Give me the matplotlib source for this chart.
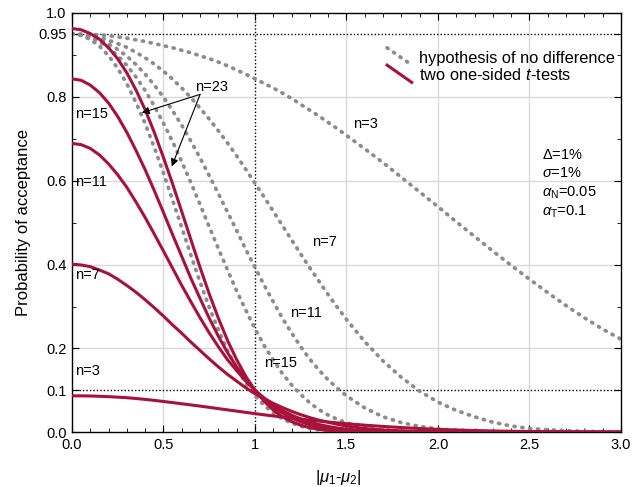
import matplotlib
matplotlib.use("Agg")
import matplotlib.pyplot as plt
from matplotlib.lines import Line2D
from matplotlib.legend_handler import HandlerBase
from matplotlib.ticker import MultipleLocator

plt.rcParams['font.family'] = ['Liberation Sans', 'DejaVu Sans']
plt.rcParams['mathtext.fontset'] = 'custom'
plt.rcParams['mathtext.rm'] = 'Liberation Sans'
plt.rcParams['mathtext.it'] = 'Liberation Sans:italic'

# ---------------- data ----------------
mu_diff = [0.0, 0.05, 0.1, 0.15, 0.2, 0.25, 0.3, 0.35, 0.4, 0.45, 0.5,
           0.55, 0.6, 0.65, 0.7, 0.75, 0.8, 0.85, 0.9, 0.95, 1.0,
           1.05, 1.1, 1.15, 1.2, 1.25, 1.3, 1.35, 1.4, 1.45, 1.5,
           1.6, 1.7, 1.8, 1.9, 2.0, 2.1, 2.2, 2.3, 2.4, 2.5, 2.6, 2.7, 2.8, 2.9, 3.0]

# hypothesis of no difference (dotted grey)
gray_n3 = [0.950, 0.9498, 0.949, 0.948, 0.946, 0.943, 0.940, 0.936, 0.932, 0.927, 0.922,
           0.917, 0.911, 0.905, 0.898, 0.891, 0.883, 0.874, 0.864, 0.854, 0.843,
           0.832, 0.821, 0.809, 0.796, 0.782, 0.768, 0.754, 0.739, 0.724, 0.708,
           0.676, 0.643, 0.608, 0.573, 0.538, 0.502, 0.467, 0.432, 0.398, 0.365, 0.333, 0.302, 0.273, 0.246, 0.222]
gray_n7 = [0.950, 0.948, 0.945, 0.941, 0.935, 0.927, 0.918, 0.906, 0.893, 0.878, 0.861,
           0.842, 0.821, 0.798, 0.773, 0.747, 0.719, 0.690, 0.659, 0.627, 0.594,
           0.561, 0.527, 0.493, 0.459, 0.425, 0.392, 0.360, 0.328, 0.298, 0.269,
           0.216, 0.170, 0.131, 0.098, 0.072, 0.052, 0.037, 0.024, 0.015, 0.009, 0.006, 0.004, 0.0025, 0.0015, 0.001]
gray_n11 = [0.950, 0.948, 0.944, 0.9365, 0.926, 0.913, 0.897, 0.877, 0.854, 0.828, 0.799,
            0.767, 0.732, 0.694, 0.654, 0.612, 0.569, 0.525, 0.481, 0.436, 0.393,
            0.351, 0.311, 0.272, 0.237, 0.204, 0.174, 0.148, 0.125, 0.105, 0.087,
            0.058, 0.037, 0.023, 0.014, 0.008, 0.005, 0.003, 0.0015, 0.0008, 0.0004, 0.0002, 0.0001, 0.0, 0.0, 0.0]
gray_n15 = [0.950, 0.948, 0.942, 0.931, 0.917, 0.898, 0.875, 0.847, 0.815, 0.778, 0.737,
            0.693, 0.645, 0.595, 0.543, 0.490, 0.438, 0.387, 0.337, 0.291, 0.247,
            0.207, 0.172, 0.140, 0.113, 0.090, 0.070, 0.054, 0.041, 0.031, 0.0225,
            0.0116, 0.0057, 0.0026, 0.0011, 0.0005, 0.0002, 0.0001, 0.0, 0.0, 0.0, 0.0, 0.0, 0.0, 0.0, 0.0]
gray_n23 = [0.950, 0.9465, 0.937, 0.921, 0.898, 0.868, 0.831, 0.786, 0.736, 0.679, 0.618,
            0.553, 0.488, 0.422, 0.358, 0.298, 0.244, 0.195, 0.153, 0.117, 0.087,
            0.064, 0.046, 0.032, 0.022, 0.0144, 0.009, 0.0059, 0.0036, 0.0022, 0.0013,
            0.0004, 0.0001, 0.0, 0.0, 0.0, 0.0, 0.0, 0.0, 0.0, 0.0, 0.0, 0.0, 0.0, 0.0, 0.0]

# two one-sided t-tests (solid red)
red_n3 = [0.087, 0.0869, 0.0866, 0.0859, 0.085, 0.0838, 0.0825, 0.0806, 0.0785, 0.0761, 0.0735,
          0.0708, 0.068, 0.0653, 0.0625, 0.0595, 0.0565, 0.0535, 0.0505, 0.0475, 0.0445,
          0.0417, 0.039, 0.0365, 0.034, 0.0315, 0.029, 0.0267, 0.0245, 0.0225, 0.0205,
          0.017, 0.014, 0.0113, 0.009, 0.007, 0.0055, 0.0042, 0.0032, 0.0024, 0.0018, 0.0013, 0.0009, 0.0006, 0.0004, 0.0003]
red_n7 = [0.401, 0.399, 0.395, 0.387, 0.378, 0.365, 0.350, 0.334, 0.316, 0.297, 0.277,
          0.256, 0.236, 0.215, 0.195, 0.175, 0.156, 0.138, 0.122, 0.106, 0.092,
          0.080, 0.069, 0.059, 0.050, 0.042, 0.035, 0.029, 0.024, 0.019, 0.015,
          0.009, 0.0055, 0.0033, 0.0019, 0.001, 0.0006, 0.0003, 0.0002, 0.0001, 0.0, 0.0, 0.0, 0.0, 0.0, 0.0]
red_n11 = [0.689, 0.686, 0.677, 0.6615, 0.640, 0.614, 0.584, 0.549, 0.512, 0.4725, 0.432,
           0.391, 0.350, 0.311, 0.273, 0.237, 0.204, 0.173, 0.147, 0.122, 0.100,
           0.082, 0.066, 0.052, 0.041, 0.032, 0.0245, 0.0186, 0.014, 0.0103, 0.0076,
           0.0039, 0.0019, 0.0009, 0.0004, 0.0002, 0.0001, 0.0, 0.0, 0.0, 0.0, 0.0, 0.0, 0.0, 0.0, 0.0]
red_n15 = [0.843, 0.8395, 0.828, 0.810, 0.785, 0.753, 0.715, 0.672, 0.626, 0.576, 0.524,
           0.471, 0.419, 0.367, 0.319, 0.272, 0.229, 0.190, 0.156, 0.126, 0.100,
           0.078, 0.060, 0.046, 0.034, 0.025, 0.018, 0.013, 0.009, 0.0063, 0.0043,
           0.0019, 0.0008, 0.0003, 0.0001, 0.0, 0.0, 0.0, 0.0, 0.0, 0.0, 0.0, 0.0, 0.0, 0.0, 0.0]
red_n23 = [0.963, 0.960, 0.951, 0.9375, 0.917, 0.8905, 0.857, 0.816, 0.769, 0.715, 0.655,
           0.592, 0.526, 0.459, 0.393, 0.330, 0.272, 0.219, 0.173, 0.133, 0.100,
           0.074, 0.053, 0.037, 0.0255, 0.017, 0.011, 0.007, 0.0044, 0.0027, 0.0015,
           0.0005, 0.0001, 0.0, 0.0, 0.0, 0.0, 0.0, 0.0, 0.0, 0.0, 0.0, 0.0, 0.0, 0.0, 0.0]

gray_curves = [gray_n3, gray_n7, gray_n11, gray_n15, gray_n23]
red_curves = [red_n3, red_n7, red_n11, red_n15, red_n23]

ytick_vals = [0.0, 0.1, 0.2, 0.4, 0.6, 0.8, 0.95, 1.0]
ytick_labels = ['0.0', '0.1', '0.2', '0.4', '0.6', '0.8', '0.95', '1.0']
xtick_vals = [0.0, 0.5, 1.0, 1.5, 2.0, 2.5, 3.0]
xtick_labels = ['0.0', '0.5', '1', '1.5', '2.0', '2.5', '3.0']

GRAY = '#8c8c8c'
RED = '#a6123a'

# ---------------- figure ----------------
fig = plt.figure(figsize=(6.34, 4.87), dpi=100)
ax = fig.add_axes([72/634, 1-432.3/487, 549/634, 419.3/487])

# reference grid
for gx in [0.5, 1.5, 2.0, 2.5]:
    ax.axvline(gx, color='#d9d9d9', lw=1.0, zorder=0)
for gy in [0.2, 0.4, 0.6, 0.8]:
    ax.axhline(gy, color='#d9d9d9', lw=1.0, zorder=0)
ax.axvline(1.0, color='black', lw=1.0, ls=(0, (1, 1.5)), zorder=0.5)
for gy in [0.1, 0.95]:
    ax.axhline(gy, color='black', lw=1.0, ls=(0, (1, 1.5)), zorder=0.5)

dot_style = dict(color=GRAY, lw=2.7, ls=(0, (0.3, 1.8)), dash_capstyle='round')
for i, yv in enumerate(gray_curves):
    ax.plot(mu_diff, yv, zorder=2,
            label='hypothesis of no difference' if i == 0 else None, **dot_style)
for i, yv in enumerate(red_curves):
    ax.plot(mu_diff, yv, color=RED, lw=2.2, zorder=3,
            label='two one-sided $t$-tests' if i == 0 else None)

ax.set_xlim(0, 3)
ax.set_ylim(0, 1)
ax.set_xticks(xtick_vals)
ax.set_xticklabels(xtick_labels)
ax.set_yticks(ytick_vals)
ax.set_yticklabels(ytick_labels)
ax.xaxis.set_minor_locator(MultipleLocator(0.1))
ax.yaxis.set_minor_locator(MultipleLocator(0.1))
ax.tick_params(which='both', direction='in', top=True, right=True, labelsize=10.5, pad=4)
ax.tick_params(which='major', length=5)
ax.tick_params(which='minor', length=3)
for sp in ax.spines.values():
    sp.set_linewidth(1.0)

ax.set_ylabel('Probability of acceptance', fontsize=12, labelpad=5)
ax.set_xlabel(r'|$\mu_1$-$\mu_2$|', fontsize=12, labelpad=12)
ax.xaxis.set_label_coords(0.486, -0.085)

# legend with slanted handles
class DiagHandler(HandlerBase):
    def create_artists(self, legend, orig, xd, yd, w, h, fs, trans):
        ln = Line2D([-xd, -xd + w], [-yd + h * 1.3, -yd - h * 0.2])
        self.update_prop(ln, orig, legend)
        ln.set_transform(trans)
        return [ln]

handles, labels = ax.get_legend_handles_labels()
leg = ax.legend(handles, labels, loc='upper left', bbox_to_anchor=(0.574, 0.91),
                frameon=False, fontsize=11.8, handlelength=1.5, handletextpad=0.45,
                labelspacing=0.08, borderpad=0, borderaxespad=0,
                handler_map={Line2D: DiagHandler()})

# labels
fs = 10.5
for txt, xx, yy in [('n=15', 0.016, 0.760), ('n=11', 0.016, 0.596),
                    ('n=7', 0.016, 0.374), ('n=3', 0.016, 0.147),
                    ('n=3', 1.536, 0.736), ('n=7', 1.31, 0.454),
                    ('n=11', 1.191, 0.284), ('n=15', 1.051, 0.165),
                    ('n=23', 0.672, 0.824)]:
    ax.text(xx, yy, txt, fontsize=fs, ha='left', va='center', zorder=5)

for tip in [(0.381, 0.762), (0.545, 0.634)]:
    ax.annotate('', xy=tip, xytext=(0.70, 0.806),
                arrowprops=dict(arrowstyle='-|>', color='black', lw=0.8,
                                mutation_scale=11, shrinkA=0, shrinkB=0), zorder=6)

for txt, yy in [(r'$\Delta$=1%', 0.661), (r'$\sigma$=1%', 0.618),
                (r'$\alpha_{\mathrm{N}}$=0.05', 0.571), (r'$\alpha_{\mathrm{T}}$=0.1', 0.526)]:
    ax.text(2.566, yy, txt, fontsize=fs, ha='left', va='center')

fig.savefig('out.png', dpi=100)
